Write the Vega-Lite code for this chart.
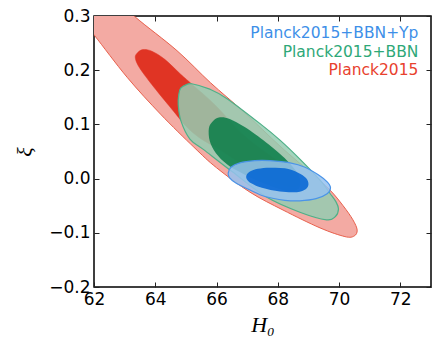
{
  "$schema": "https://vega.github.io/schema/vega-lite/v6.json",
  "width": 337,
  "height": 271,
  "autosize": {"type": "none"},
  "padding": {"left": 94, "top": 16, "right": 12, "bottom": 60},
  "background": "white",
  "config": {
    "view": {"stroke": "#000", "strokeWidth": 1.5},
    "axis": {
      "grid": false,
      "domain": false,
      "ticks": true,
      "tickColor": "#222",
      "tickWidth": 1,
      "tickSize": -5,
      "labelFont": "DejaVu Sans",
      "labelFontSize": 17,
      "labelColor": "#000",
      "labelFlush": false,
      "labelOverlap": false,
      "titleFont": "Liberation Serif",
      "titleFontStyle": "italic",
      "titleFontWeight": "normal",
      "titleFontSize": 22,
      "titleColor": "#000"
    }
  },
  "data": {
    "values": [
      {"c": "R2", "i": 0, "x": 61.53, "y": 0.403},
      {"c": "R2", "i": 1, "x": 62.51, "y": 0.343},
      {"c": "R2", "i": 2, "x": 63.35, "y": 0.298},
      {"c": "R2", "i": 3, "x": 64.71, "y": 0.236},
      {"c": "R2", "i": 4, "x": 65.80, "y": 0.177},
      {"c": "R2", "i": 5, "x": 66.89, "y": 0.123},
      {"c": "R2", "i": 6, "x": 68.07, "y": 0.060},
      {"c": "R2", "i": 7, "x": 69.05, "y": 0.012},
      {"c": "R2", "i": 8, "x": 69.70, "y": -0.021},
      {"c": "R2", "i": 9, "x": 70.13, "y": -0.050},
      {"c": "R2", "i": 10, "x": 70.45, "y": -0.076},
      {"c": "R2", "i": 11, "x": 70.59, "y": -0.095},
      {"c": "R2", "i": 12, "x": 70.49, "y": -0.106},
      {"c": "R2", "i": 13, "x": 70.19, "y": -0.107},
      {"c": "R2", "i": 14, "x": 69.38, "y": -0.091},
      {"c": "R2", "i": 15, "x": 68.17, "y": -0.058},
      {"c": "R2", "i": 16, "x": 67.09, "y": -0.025},
      {"c": "R2", "i": 17, "x": 66.00, "y": 0.020},
      {"c": "R2", "i": 18, "x": 65.26, "y": 0.058},
      {"c": "R2", "i": 19, "x": 64.17, "y": 0.119},
      {"c": "R2", "i": 20, "x": 63.08, "y": 0.187},
      {"c": "R2", "i": 21, "x": 61.99, "y": 0.266},
      {"c": "R2", "i": 22, "x": 61.21, "y": 0.320},
      {"c": "R2", "i": 23, "x": 60.81, "y": 0.366},
      {"c": "R2", "i": 24, "x": 60.94, "y": 0.399},

      {"c": "R1", "i": 0, "x": 63.40, "y": 0.231},
      {"c": "R1", "i": 1, "x": 63.59, "y": 0.238},
      {"c": "R1", "i": 2, "x": 63.89, "y": 0.235},
      {"c": "R1", "i": 3, "x": 64.31, "y": 0.220},
      {"c": "R1", "i": 4, "x": 64.82, "y": 0.193},
      {"c": "R1", "i": 5, "x": 65.26, "y": 0.171},
      {"c": "R1", "i": 6, "x": 65.95, "y": 0.136},
      {"c": "R1", "i": 7, "x": 66.89, "y": 0.080},
      {"c": "R1", "i": 8, "x": 67.74, "y": 0.043},
      {"c": "R1", "i": 9, "x": 68.40, "y": 0.016},
      {"c": "R1", "i": 10, "x": 68.72, "y": -0.001},
      {"c": "R1", "i": 11, "x": 68.59, "y": -0.014},
      {"c": "R1", "i": 12, "x": 68.13, "y": -0.012},
      {"c": "R1", "i": 13, "x": 67.48, "y": 0.005},
      {"c": "R1", "i": 14, "x": 66.76, "y": 0.029},
      {"c": "R1", "i": 15, "x": 66.11, "y": 0.053},
      {"c": "R1", "i": 16, "x": 65.45, "y": 0.075},
      {"c": "R1", "i": 17, "x": 65.00, "y": 0.097},
      {"c": "R1", "i": 18, "x": 64.60, "y": 0.124},
      {"c": "R1", "i": 19, "x": 63.95, "y": 0.169},
      {"c": "R1", "i": 20, "x": 63.49, "y": 0.204},
      {"c": "R1", "i": 21, "x": 63.35, "y": 0.222},

      {"c": "G2", "i": 0, "x": 64.77, "y": 0.156},
      {"c": "G2", "i": 1, "x": 64.83, "y": 0.167},
      {"c": "G2", "i": 2, "x": 65.00, "y": 0.173},
      {"c": "G2", "i": 3, "x": 65.19, "y": 0.175},
      {"c": "G2", "i": 4, "x": 65.78, "y": 0.165},
      {"c": "G2", "i": 5, "x": 66.33, "y": 0.148},
      {"c": "G2", "i": 6, "x": 67.43, "y": 0.101},
      {"c": "G2", "i": 7, "x": 68.07, "y": 0.071},
      {"c": "G2", "i": 8, "x": 68.72, "y": 0.036},
      {"c": "G2", "i": 9, "x": 69.38, "y": -0.003},
      {"c": "G2", "i": 10, "x": 69.70, "y": -0.027},
      {"c": "G2", "i": 11, "x": 69.90, "y": -0.043},
      {"c": "G2", "i": 12, "x": 69.98, "y": -0.056},
      {"c": "G2", "i": 13, "x": 69.88, "y": -0.070},
      {"c": "G2", "i": 14, "x": 69.59, "y": -0.076},
      {"c": "G2", "i": 15, "x": 68.72, "y": -0.062},
      {"c": "G2", "i": 16, "x": 67.63, "y": -0.034},
      {"c": "G2", "i": 17, "x": 66.53, "y": 0.012},
      {"c": "G2", "i": 18, "x": 65.59, "y": 0.053},
      {"c": "G2", "i": 19, "x": 65.13, "y": 0.073},
      {"c": "G2", "i": 20, "x": 64.84, "y": 0.106},
      {"c": "G2", "i": 21, "x": 64.75, "y": 0.136},

      {"c": "G1", "i": 0, "x": 65.75, "y": 0.093},
      {"c": "G1", "i": 1, "x": 65.88, "y": 0.106},
      {"c": "G1", "i": 2, "x": 66.11, "y": 0.113},
      {"c": "G1", "i": 3, "x": 66.43, "y": 0.110},
      {"c": "G1", "i": 4, "x": 66.92, "y": 0.095},
      {"c": "G1", "i": 5, "x": 67.63, "y": 0.066},
      {"c": "G1", "i": 6, "x": 68.29, "y": 0.034},
      {"c": "G1", "i": 7, "x": 68.66, "y": 0.008},
      {"c": "G1", "i": 8, "x": 68.72, "y": -0.014},
      {"c": "G1", "i": 9, "x": 68.49, "y": -0.023},
      {"c": "G1", "i": 10, "x": 68.07, "y": -0.019},
      {"c": "G1", "i": 11, "x": 67.42, "y": -0.006},
      {"c": "G1", "i": 12, "x": 66.76, "y": 0.012},
      {"c": "G1", "i": 13, "x": 66.33, "y": 0.027},
      {"c": "G1", "i": 14, "x": 65.98, "y": 0.047},
      {"c": "G1", "i": 15, "x": 65.78, "y": 0.069},

      {"c": "B2", "i": 0, "x": 66.38, "y": 0.010},
      {"c": "B2", "i": 1, "x": 66.47, "y": 0.021},
      {"c": "B2", "i": 2, "x": 66.76, "y": 0.029},
      {"c": "B2", "i": 3, "x": 67.25, "y": 0.033},
      {"c": "B2", "i": 4, "x": 67.74, "y": 0.033},
      {"c": "B2", "i": 5, "x": 68.40, "y": 0.029},
      {"c": "B2", "i": 6, "x": 68.89, "y": 0.021},
      {"c": "B2", "i": 7, "x": 69.32, "y": 0.007},
      {"c": "B2", "i": 8, "x": 69.61, "y": -0.006},
      {"c": "B2", "i": 9, "x": 69.72, "y": -0.017},
      {"c": "B2", "i": 10, "x": 69.61, "y": -0.028},
      {"c": "B2", "i": 11, "x": 69.25, "y": -0.037},
      {"c": "B2", "i": 12, "x": 68.72, "y": -0.041},
      {"c": "B2", "i": 13, "x": 68.23, "y": -0.040},
      {"c": "B2", "i": 14, "x": 67.58, "y": -0.033},
      {"c": "B2", "i": 15, "x": 67.09, "y": -0.021},
      {"c": "B2", "i": 16, "x": 66.63, "y": -0.008},
      {"c": "B2", "i": 17, "x": 66.42, "y": 0.002},

      {"c": "B1", "i": 0, "x": 66.97, "y": 0.005},
      {"c": "B1", "i": 1, "x": 67.09, "y": 0.013},
      {"c": "B1", "i": 2, "x": 67.35, "y": 0.018},
      {"c": "B1", "i": 3, "x": 67.74, "y": 0.020},
      {"c": "B1", "i": 4, "x": 68.23, "y": 0.019},
      {"c": "B1", "i": 5, "x": 68.66, "y": 0.011},
      {"c": "B1", "i": 6, "x": 68.92, "y": 0.001},
      {"c": "B1", "i": 7, "x": 69.00, "y": -0.010},
      {"c": "B1", "i": 8, "x": 68.92, "y": -0.019},
      {"c": "B1", "i": 9, "x": 68.62, "y": -0.025},
      {"c": "B1", "i": 10, "x": 68.07, "y": -0.024},
      {"c": "B1", "i": 11, "x": 67.48, "y": -0.017},
      {"c": "B1", "i": 12, "x": 67.15, "y": -0.009},
      {"c": "B1", "i": 13, "x": 67.01, "y": -0.003}
    ]
  },
  "layer": [
    {
      "transform": [{"filter": "datum.c === 'R2'"}],
      "mark": {"type": "line", "interpolate": "cardinal-closed", "fill": "#f3aaa3", "stroke": "#e8604c", "strokeWidth": 1, "clip": true},
      "encoding": {
        "x": {"field": "x", "type": "quantitative", "scale": {"domain": [62, 73], "nice": false, "zero": false},
              "axis": {"orient": "bottom", "values": [62, 64, 66, 68, 70, 72], "format": "d", "labelPadding": 9, "title": "H₀", "titlePadding": 7}},
        "y": {"field": "y", "type": "quantitative", "scale": {"domain": [-0.2, 0.3], "nice": false, "zero": false},
              "axis": {"orient": "left", "values": [-0.2, -0.1, 0, 0.1, 0.2, 0.3], "format": ".1f", "labelPadding": 9, "title": "ξ", "titlePadding": 12}},
        "order": {"field": "i", "type": "quantitative"}
      }
    },
    {
      "transform": [{"filter": "datum.c === 'R1'"}],
      "mark": {"type": "line", "interpolate": "cardinal-closed", "fill": "#e03424", "stroke": "#e03424", "strokeWidth": 0.5, "clip": true},
      "encoding": {
        "x": {"field": "x", "type": "quantitative", "axis": {"orient": "top", "values": [62, 64, 66, 68, 70, 72], "labels": false, "title": null}},
        "y": {"field": "y", "type": "quantitative", "axis": {"orient": "right", "values": [-0.2, -0.1, 0, 0.1, 0.2, 0.3], "labels": false, "title": null}},
        "order": {"field": "i", "type": "quantitative"}
      }
    },
    {
      "transform": [{"filter": "datum.c === 'G2'"}],
      "mark": {"type": "line", "interpolate": "cardinal-closed", "fill": "#94ccb1", "fillOpacity": 0.85, "stroke": "#4fb088", "strokeWidth": 1.2, "clip": true},
      "encoding": {
        "x": {"field": "x", "type": "quantitative", "axis": null},
        "y": {"field": "y", "type": "quantitative", "axis": null},
        "order": {"field": "i", "type": "quantitative"}
      }
    },
    {
      "transform": [{"filter": "datum.c === 'G1'"}],
      "mark": {"type": "line", "interpolate": "cardinal-closed", "fill": "#087d48", "fillOpacity": 0.85, "strokeWidth": 0, "clip": true},
      "encoding": {
        "x": {"field": "x", "type": "quantitative", "axis": null},
        "y": {"field": "y", "type": "quantitative", "axis": null},
        "order": {"field": "i", "type": "quantitative"}
      }
    },
    {
      "transform": [{"filter": "datum.c === 'B2'"}],
      "mark": {"type": "line", "interpolate": "cardinal-closed", "fill": "#96c2f0", "fillOpacity": 0.85, "stroke": "#4a94e8", "strokeWidth": 1.2, "clip": true},
      "encoding": {
        "x": {"field": "x", "type": "quantitative", "axis": null},
        "y": {"field": "y", "type": "quantitative", "axis": null},
        "order": {"field": "i", "type": "quantitative"}
      }
    },
    {
      "transform": [{"filter": "datum.c === 'B1'"}],
      "mark": {"type": "line", "interpolate": "cardinal-closed", "fill": "#0063d4", "fillOpacity": 0.85, "strokeWidth": 0, "clip": true},
      "encoding": {
        "x": {"field": "x", "type": "quantitative", "axis": null},
        "y": {"field": "y", "type": "quantitative", "axis": null},
        "order": {"field": "i", "type": "quantitative"}
      }
    },
    {
      "data": {
        "values": [
          {"label": "Planck2015+BBN+Yp", "x": 72.59, "y": 0.268},
          {"label": "Planck2015+BBN", "x": 72.59, "y": 0.234},
          {"label": "Planck2015", "x": 72.59, "y": 0.200}
        ]
      },
      "mark": {"type": "text", "align": "right", "baseline": "middle", "font": "DejaVu Sans", "fontSize": 15.5},
      "encoding": {
        "x": {"field": "x", "type": "quantitative", "axis": null},
        "y": {"field": "y", "type": "quantitative", "axis": null},
        "text": {"field": "label"},
        "color": {"field": "label", "type": "nominal", "legend": null,
                  "scale": {"domain": ["Planck2015+BBN+Yp", "Planck2015+BBN", "Planck2015"], "range": ["#3d8fe8", "#2ea878", "#e8412e"]}}
      }
    }
  ],
  "resolve": {"axis": {"x": "independent", "y": "independent"}}
}
